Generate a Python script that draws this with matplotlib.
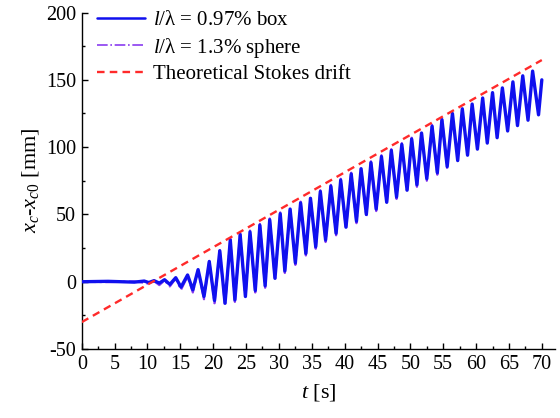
import matplotlib.pyplot as plt
from matplotlib.ticker import MultipleLocator

plt.rcParams['font.family'] = 'Liberation Serif'
plt.rcParams['mathtext.fontset'] = 'custom'
plt.rcParams['mathtext.rm'] = 'Liberation Serif'
plt.rcParams['mathtext.it'] = 'Liberation Serif:italic'
plt.rcParams['axes.unicode_minus'] = False

# turning points, t [s] and x_c - x_c0 [mm]
box_t = [0, 4.0, 8.0, 9.5, 10.2, 11.0, 11.8, 12.6, 13.4, 14.3, 15.1, 16.1, 16.9,
         17.7, 18.6, 19.4, 20.2, 21.0, 21.8, 22.6, 23.3, 24.1, 24.9, 25.6, 26.4,
         27.1, 27.9, 28.6, 29.4, 30.2, 30.9, 31.7, 32.5, 33.3, 34.1, 34.8, 35.6,
         36.3, 37.1, 37.9, 38.7, 39.4, 40.2, 41.0, 41.8, 42.5, 43.3, 44.0, 44.8,
         45.6, 46.4, 47.1, 47.9, 48.7, 49.5, 50.2, 51.0, 51.7, 52.5, 53.3, 54.1,
         54.8, 55.6, 56.4, 57.2, 57.9, 58.7, 59.4, 60.2, 61.0, 61.7, 62.5, 63.2,
         64.0, 64.8, 65.6, 66.3, 67.1, 67.9, 68.6, 69.5, 70.0]
box_x = [0, 0.3, -0.3, 0.5, -0.6, 0.8, -1, 1.5, -2, 3, -4, 5, -6,
         9, -11, 15, -14, 23, -16, 31, -13.5, 35, -11, 37, -6.5,
         42, -3, 46, 2.5, 50.5, 8, 54, 14, 58.5, 21, 62, 26,
         67, 31, 71, 36, 75.5, 40.5, 80, 45, 84, 50, 88.5, 54,
         93, 59, 97.5, 63, 102, 68, 106, 72, 110.5, 76.5, 115.5, 81,
         120.5, 85.5, 125, 90, 128.5, 94, 132, 98.5, 136.5, 103, 140.5, 107,
         144, 112, 148.5, 116, 153, 120, 156.5, 124, 150]

sphere_t = [0, 4.0, 8.0, 9.5, 10.2, 11.0, 11.8, 12.6, 13.4, 14.3, 15.1, 16.1, 16.9,
            17.7, 18.6, 19.4, 20.2, 21.0, 21.8, 22.6, 23.3, 24.1, 24.9, 25.6, 26.4,
            27.1, 27.9, 28.6, 29.4, 30.2, 30.9, 31.7, 32.5, 33.3, 34.1, 34.8, 35.6,
            36.3, 37.1, 37.9, 38.7, 39.4, 40.2, 41.0, 41.8, 42.5, 43.3, 44.0, 44.8,
            45.6, 46.4, 47.1, 47.9, 48.7, 49.5, 50.2, 51.0, 51.7, 52.5, 53.3, 54.1,
            54.8, 55.6]
sphere_x = [0, -0.3, 0.2, -0.8, -1.5, 0.5, -2.5, 1, -3.5, 2.5, -6, 4, -8,
            8.5, -13, 15.5, -16, 23.5, -18, 32, -15, 36, -12.5, 38, -8,
            43, -4.5, 47, 1, 51.5, 6.5, 55, 12.5, 59.5, 19.5, 63, 24.5,
            68, 29.5, 72, 34.5, 76.5, 39, 81, 43.5, 85, 48.5, 89.5, 52.5,
            94, 57.5, 98.5, 61.5, 103, 66.5, 107, 70.5, 111.5, 75, 116.5, 79.5,
            121.5, 84]

stokes_t = [0, 70]
stokes_x = [-30, 164.7]

fig = plt.figure(figsize=(5.6, 4.18), dpi=100)
ax = fig.add_axes([0.146, 0.165, 0.845, 0.805])

ax.plot(sphere_t, sphere_x, color='#8a3cf0', lw=1.6, ls='-.',
        solid_joinstyle='round', dash_joinstyle='round',
        label=r'$l$/λ = 1.3% sphere', zorder=2)
ax.plot(box_t, box_x, color='#1010ee', lw=2.4, solid_joinstyle='round',
        solid_capstyle='round', label=r'$l$/λ = 0.97% box', zorder=3)
ax.plot(stokes_t, stokes_x, color='#ff2a2a', lw=1.7, ls=(0, (3.2, 2.2)),
        label='Theoretical Stokes drift', zorder=4)

ax.set_xlim(0, 72)
ax.set_ylim(-50, 200)
ax.xaxis.set_major_locator(MultipleLocator(5))
ax.xaxis.set_minor_locator(MultipleLocator(2.5))
ax.yaxis.set_major_locator(MultipleLocator(50))
ax.yaxis.set_minor_locator(MultipleLocator(25))
ax.tick_params(which='both', direction='in', width=1, labelsize=14.5, pad=4)
ax.tick_params(which='major', length=4.5)
ax.tick_params(which='minor', length=2.5)
for s in ['top', 'right']:
    ax.spines[s].set_visible(False)
for s in ['left', 'bottom']:
    ax.spines[s].set_linewidth(1.0)

ax.set_xlabel(r'$t$ [s]', fontsize=16, labelpad=6)
ax.set_ylabel(r'$x_c$-$x_{c0}$ [mm]', fontsize=16, labelpad=4)

h, l = ax.get_legend_handles_labels()
leg = ax.legend([h[1], h[0], h[2]], [l[1], l[0], l[2]], loc='upper left',
                bbox_to_anchor=(0.015, 1.03), frameon=False, fontsize=15,
                handlelength=2.3, handletextpad=0.4, labelspacing=0.25,
                borderaxespad=0)
leg.get_lines()[0].set_linewidth(1.8)
leg.get_lines()[1].set_linewidth(1.2)

fig.savefig('out.png')
